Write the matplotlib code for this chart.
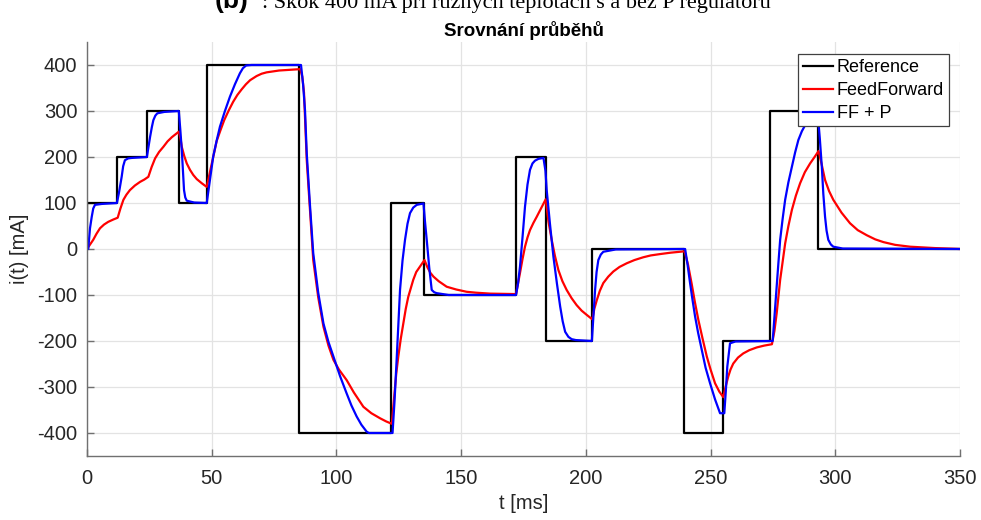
import matplotlib
matplotlib.use('Agg')
import matplotlib.pyplot as plt

plt.rcParams['font.family'] = ['Liberation Sans', 'DejaVu Sans']
plt.rcParams['axes.unicode_minus'] = False

# reference steps (time in ms, current in mA)
ref_t = [0, 0, 12, 24, 37, 48, 85, 122, 135, 172, 184, 202.4, 239.5, 255, 274, 293, 350]
ref_i = [0, 100, 200, 300, 100, 400, -400, 100, -100, 200, -200, 0, -400, -200, 300, 0, 0]

# FeedForward response
ff_t = [0, 1, 2.5, 3.8, 5.2, 6.8, 8.5, 10.5, 12.3, 13.4, 14.6, 15.8, 17.2, 19.2, 21.3,
        23, 24.6, 25.9, 27.3, 28.9, 30.6, 32.3, 34, 35.4, 36.8,
        37.5, 38, 39, 40, 41.3, 42.6, 44, 46, 48,
        49, 50, 51, 52, 53.5, 55, 56.8, 58.6, 60.3, 62, 63.7, 65.4, 68, 70, 72, 74.5,
        77, 80, 82.7, 85.5,
        86.3, 87, 88.1, 89.4, 90.7, 92.7, 94.8, 96.8, 98.8, 101, 103, 104.1, 107,
        110.8, 114, 117.5, 120, 122.2,
        123, 124, 124.8, 125.8, 126.8, 127.8, 128.8, 130.8, 132, 133.5, 135.3, 136.5,
        137.7, 138.9, 141, 144.2, 148, 152.2, 156, 161.6, 172,
        173, 173.6, 174.6, 175.6, 176.6, 177.6, 179, 180.3, 182, 183.9, 185, 186.3,
        187.6, 189, 190.6, 192.3, 194.3, 196.3, 198.3, 200.3, 202.6,
        203.4, 204.4, 205.6, 207, 209, 211, 213.5, 216.4, 219.5, 223, 226, 229.8, 234,
        239.6,
        241, 242.4, 243.7, 245.1, 246.8, 248.5, 250, 251.8, 253.5, 255.1, 256, 257.1,
        258, 259.1, 261, 263.1, 265.5, 268.5, 271.5, 274.6,
        275.6, 276.5, 277.2, 277.9, 278.9, 279.9, 281.2, 282.6, 284.2, 285.9, 287.8,
        289.9, 291.7, 293.3, 294.5, 295.9, 297.5, 299.2, 302.5, 305.9, 309, 312.6,
        316, 319.3, 324, 330, 340, 350]
ff_i = [0, 8, 20, 33, 45, 53, 59, 64, 68, 88, 107, 118, 128, 138, 146,
        151, 157, 178, 197, 211, 222, 234, 243, 249, 255,
        240, 222, 202, 186, 172, 161, 152, 143, 135,
        160, 185, 210, 235, 258, 280, 301, 320, 335, 347, 358, 367, 376, 381, 384, 386,
        388, 389, 390, 391,
        375, 340, 193, 85, -24, -105, -169, -210, -241, -262, -277, -285, -312,
        -343, -357, -368, -375, -380,
        -330, -270, -234, -195, -162, -130, -104, -67, -50, -38, -24, -40,
        -52, -60, -70, -82, -88, -93, -95, -97, -98,
        -70, -52, -22, 5, 25, 41, 57, 70, 88, 108, 60, 20,
        -15, -46, -70, -89, -107, -122, -134, -143, -153,
        -130, -111, -91, -74, -60, -49, -39, -31, -24, -18, -14, -11, -8,
        -5,
        -35, -75, -115, -154, -195, -234, -262, -292, -310, -322, -300, -277,
        -262, -249, -236, -227, -220, -214, -210, -207,
        -178, -140, -103, -67, -27, 12, 50, 85, 116, 143, 167,
        186, 200, 213, 185, 150, 126, 107, 79, 56, 41, 30,
        21, 15, 9, 5, 2, 0]

# FF + P response
ffp_t = [0, 0.5, 1.2, 1.9, 2.5, 3.2, 6, 12, 12.9, 13.9, 14.5, 15.2, 16.5, 18, 24,
         24.6, 25.3, 26, 26.6, 27.4, 28.2, 31, 36.8, 37.4, 38, 38.5, 38.9, 39.4, 40,
         43, 48, 49.3, 50.6, 52, 53.3, 55.3, 57.3, 59.3, 61.3, 62.5, 63.8, 66, 85.8,
         86.6, 87.4, 88.1, 89.4, 90.7, 92.7, 94.8, 96.8, 98.8, 101.5, 104.1, 106,
         108.1, 110, 112.1, 113, 122.5, 123.3, 124.2, 125.5, 126.5, 127.5, 128.5,
         129.5, 130.8, 132.2, 134.9, 135.5, 136.2, 137.2, 138.2, 139.2, 140.2, 145,
         172, 172.8, 173.6, 174.6, 175.6, 176.6, 177.6, 178.6, 179.6, 181, 183, 183.8,
         184.3, 185.6, 187, 188.4, 189.7, 190.7, 191.7, 193, 194.3, 196, 202.4, 203,
         203.7, 204.3, 205, 206, 207, 212, 239.8, 240.8, 241.8, 242.8, 243.8, 245,
         246.5, 248, 249.8, 251.8, 253.8, 255.5, 256.1, 256.7, 257.8, 260, 274.9,
         275.7, 276.5, 277.2, 277.9, 278.9, 279.9, 281.2, 282.6, 283.9, 285.2, 286.6,
         288, 289.5, 291, 293, 293.8, 294.6, 295.2, 295.9, 296.5, 297.2, 298.2, 299.2,
         303, 350]
ffp_i = [0, 0, 45, 70, 88, 96, 98, 100, 125, 157, 180, 193, 197, 198, 200,
         220, 244, 265, 280, 290, 295, 298, 300, 260, 215, 165, 128, 112, 105,
         101, 100, 150, 201, 236, 266, 300, 331, 358, 382, 393, 399, 400, 400,
         360, 302, 208, 95, -9, -95, -162, -202, -234, -277, -314, -340,
         -364, -382, -397, -400, -400, -330, -234, -89, -25, 20, 55,
         78, 90, 96, 99, 60, 20, -40, -89, -94, -96, -100,
         -100, -75, -38, 25, 92, 140, 172, 186, 192, 196, 198, 170,
         128, 55, -17, -75, -125, -157, -180, -191, -196, -198, -200, -150,
         -89, -50, -24, -12, -6, -1, 0, -35, -75, -112, -147, -182,
         -220, -258, -292, -327, -357, -357, -310, -256, -205, -201, -200,
         -140, -82, -30, 20, 66, 107, 145, 179, 210, 237, 256,
         270, 281, 288, 292, 240, 179, 120, 70, 40, 20, 10, 5,
         1, 0]

fig = plt.figure(figsize=(9.81, 5.20), dpi=100)
ax = fig.add_axes([87 / 981, 1 - 456 / 520, (960 - 87) / 981, (456 - 42) / 520])

ax.step(ref_t, ref_i, where='post', color='black', lw=1.6, label='Reference')
ax.plot(ff_t, ff_i, color='red', lw=1.6, label='FeedForward')
ax.plot(ffp_t, ffp_i, color='blue', lw=1.6, label='FF + P')

ax.set_xlim(0, 350)
ax.set_ylim(-450, 450)
ax.set_xticks(range(0, 351, 50))
ax.set_yticks(range(-400, 401, 100))
ax.grid(True, color='#e3e3e3', lw=0.9)
ax.set_axisbelow(True)
for s in ['top', 'right']:
    ax.spines[s].set_visible(False)
for s in ['left', 'bottom']:
    ax.spines[s].set_color('#707070')
    ax.spines[s].set_linewidth(1.0)
ax.tick_params(direction='in', length=5, width=1, colors='#707070',
               labelcolor='#262626', labelsize=14.5)
ax.tick_params(axis='x', pad=9)
ax.tick_params(axis='y', pad=7)

ax.set_xlabel('t [ms]', fontsize=14.5, color='#262626', labelpad=5)
ax.set_ylabel('i(t) [mA]', fontsize=14.5, color='#262626', labelpad=6)
ax.set_title('Srovnání průběhů', fontsize=13.5, fontweight='bold', pad=4)

leg = ax.legend(loc='upper right', bbox_to_anchor=(0.987, 0.97), fontsize=13,
                fancybox=False, framealpha=1, edgecolor='#404040',
                handlelength=1.7, handletextpad=0.2, labelspacing=0.33,
                borderpad=0.25, borderaxespad=0.0)
leg.get_frame().set_linewidth(0.9)

# caption of the page, cut off at the top edge
fig.text(215 / 981, 1 - 8 / 520, '(b)', fontsize=19, fontweight='bold',
         va='baseline', ha='left')
fig.text(262 / 981, 1 - 8 / 520, ': Skok 400 mA při různých teplotách s a bez P regulátoru',
         fontsize=16, family='Liberation Serif', va='baseline', ha='left')

fig.savefig('out.png', dpi=100)
